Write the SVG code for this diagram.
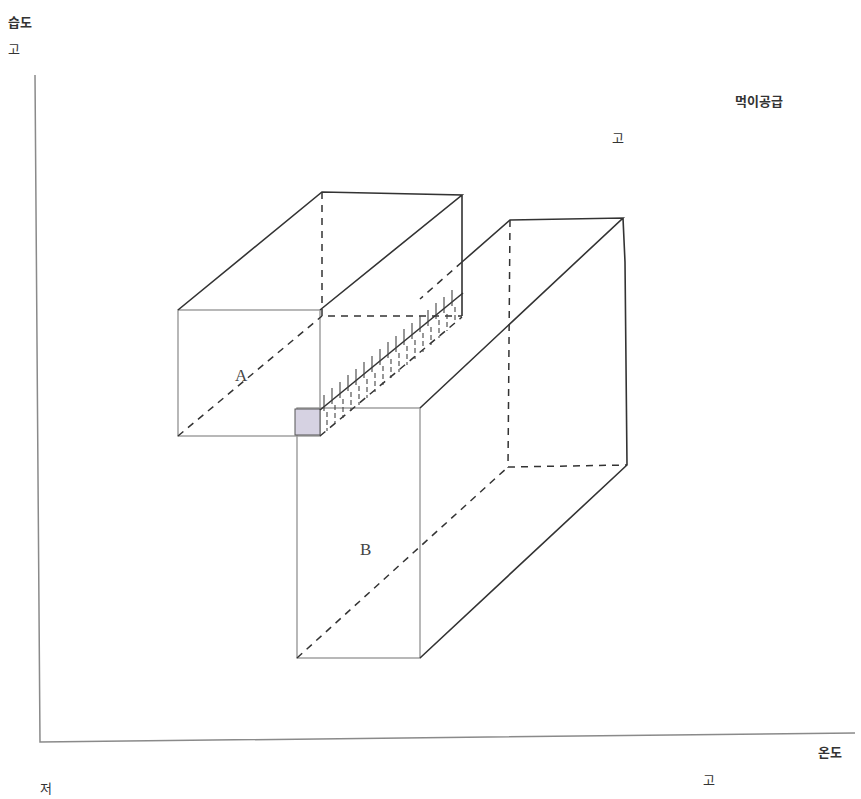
<svg xmlns="http://www.w3.org/2000/svg" width="861" height="799" viewBox="0 0 861 799">
<defs>
<style>
.axis{stroke:#8a8a8a;stroke-width:1.5;fill:none}
.face{stroke:#9a9a9a;stroke-width:1.4;fill:none}
.edge{stroke:#333;stroke-width:1.6;fill:none}
.hid{stroke:#333;stroke-width:1.5;fill:none;stroke-dasharray:7 6}
.hatch{stroke:#444;stroke-width:1.1;fill:none}
.lbl{font-family:"Noto Sans CJK KR","Noto Sans",sans-serif;font-size:13px;fill:#333}
.big{font-family:"Liberation Serif",serif;font-size:17px;fill:#444}
</style>
</defs>
<rect width="861" height="799" fill="#fff"/>
<g id="axes">
<path class="axis" d="M35 75 L40 742 L855 733"/>
</g>
<g id="labels">
<text class="lbl" x="8" y="27" font-weight="bold">습도</text>
<text class="lbl" x="8" y="54" font-size="11">고</text>
<text class="lbl" x="735" y="106" font-weight="bold">먹이공급</text>
<text class="lbl" x="612" y="143">고</text>
<text class="lbl" x="818" y="757" font-weight="bold">온도</text>
<text class="lbl" x="40" y="793">저</text>
<text class="lbl" x="703" y="785">고</text>
</g>
<g id="boxA">
<rect x="178" y="310" width="142" height="126" class="face"/>
<path class="edge" d="M178 310 L322 192 L462 195 L320 310 M462 195 L462 316"/>
<path class="hid" d="M322 192 L322 316 L462 316 M178 436 L322 316"/>
<text class="big" x="235" y="381">A</text>
</g>
<g id="boxB">
<rect x="297" y="408" width="123" height="250" class="face"/>
<path class="edge" d="M420 408 L623 218 L510 220 L462 262 M623 218 L625 262 L627 465 L420 658"/>
<path class="hid" d="M510 220 L508 467 L627 465 M297 658 L508 467 M462 262 L420 299"/>
<text class="big" x="360" y="555">B</text>
</g>
<g id="overlap">
<rect x="295" y="409" width="25" height="26" fill="#d6d2e2" stroke="#555" stroke-width="1"/>
<path class="edge" d="M320 410 L463 293"/>
<path class="hid" d="M320 436 L462 317"/>
<path class="hatch" d="M324 395 v16 M332 388 v16 M340 382 v16 M348 375 v16 M356 369 v16 M364 362 v16 M372 356 v16 M380 349 v16 M388 342 v16 M396 336 v16 M404 329 v16 M412 323 v16 M420 316 v16 M428 310 v16 M436 303 v16 M444 297 v16 M452 290 v16"/>
<path class="hatch" stroke-dasharray="5 3" d="M327 412 v19 M335 405 v19 M343 399 v19 M351 392 v19 M359 386 v19 M367 379 v19 M375 373 v19 M383 366 v19 M391 359 v19 M399 353 v19 M407 346 v19 M415 340 v19 M423 333 v19 M431 327 v18 M439 320 v18 M447 314 v17 M455 307 v16"/>
</g>
</svg>
